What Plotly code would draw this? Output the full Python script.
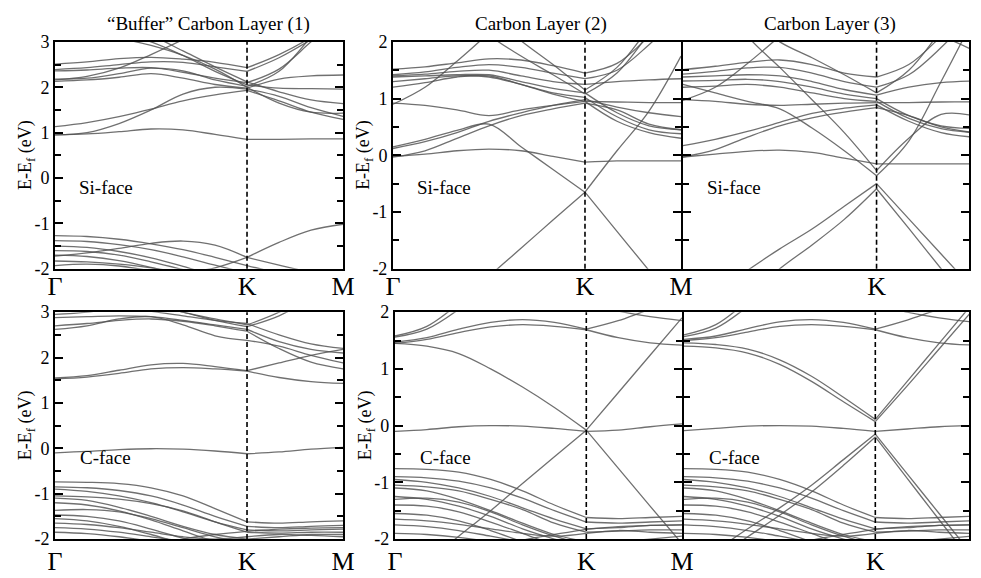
import plotly.graph_objects as go

# k-path positions (Gamma=0, K=6/9, M=1)
K_PATH = [0, 1/9, 2/9, 3/9, 4/9, 5/9, 6/9, 7/9, 8/9, 1]
K_IDX = 6

# ---------------- Panel 1: buffer layer, Si-face ----------------
p1_c1 = [0.95, 0.97, 1.02, 1.08, 1.06, 0.96, 0.85, 0.85, 0.86, 0.86]
p1_c2 = [0.95, 1.0, 1.2, 1.5, 1.85, 2.0, 1.96, 1.8, 1.55, 1.36]
p1_c3 = [1.13, 1.22, 1.35, 1.52, 1.7, 1.83, 1.93, 1.7, 1.45, 1.29]
p1_u1 = [2.51, 2.56, 2.63, 2.66, 2.62, 2.55, 2.43, 2.72, 3.1, 3.6]
p1_u2 = [2.39, 2.43, 2.5, 2.56, 2.55, 2.45, 2.35, 2.65, 3.05, 3.5]
p1_u3 = [2.36, 2.38, 2.42, 2.43, 2.33, 2.2, 2.1, 2.4, 3.0, 3.6]
p1_u4 = [2.18, 2.2, 2.3, 2.42, 2.36, 2.16, 2.02, 2.35, 3.1, 3.8]
p1_u5 = [2.13, 2.16, 2.22, 2.3, 2.2, 2.06, 1.98, 2.18, 2.25, 2.27]
p1_e1 = [2.16, 2.24, 2.42, 2.72, 3.05, 3.4, 3.7, 3.9, 4.0, 4.1]
p1_d1 = [3.6, 3.4, 3.2, 3.0, 2.7, 2.35, 2.05, 1.98, 1.97, 1.96]
p1_d2 = [3.9, 3.7, 3.45, 3.15, 2.8, 2.45, 2.12, 1.9, 1.72, 1.64]
p1_d3 = [3.3, 3.2, 3.08, 2.92, 2.7, 2.4, 2.0, 1.65, 1.45, 1.43]
p1_v1 = [-1.27, -1.29, -1.35, -1.45, -1.58, -1.75, -1.93, -2.1, -2.25, -2.35]
p1_v2 = [-1.72, -1.65, -1.55, -1.44, -1.39, -1.48, -1.75, -1.92, -2.08, -2.2]
p1_v3 = [-2.6, -2.5, -2.4, -2.25, -2.1, -1.98, -1.75, -1.42, -1.15, -1.02]
p1_v4 = [-1.38, -1.4, -1.47, -1.58, -1.74, -1.92, -2.1, -2.3, -2.4, -2.45]
p1_v5 = [-1.5, -1.53, -1.62, -1.76, -1.95, -2.15, -2.3, -2.4, -2.5, -2.5]
p1_v6 = [-1.6, -1.62, -1.7, -1.85, -2.02, -2.2, -2.35, -2.45, -2.5, -2.55]
p1_v7 = [-1.7, -1.73, -1.82, -1.97, -2.15, -2.3, -2.45, -2.5, -2.55, -2.6]
p1_v8 = [-1.83, -1.85, -1.9, -1.98, -2.1, -2.25, -2.4, -2.5, -2.55, -2.6]
p1_v9 = [-1.93, -1.9, -1.94, -2.05, -2.2, -2.35, -2.5, -2.55, -2.6, -2.65]

# ---------------- Panel 2: layer 2, Si-face ----------------
p2_f = [-0.02, 0.02, 0.08, 0.11, 0.08, -0.02, -0.12, -0.1, -0.1, -0.1]
p2_v = [0.15, 0.28, 0.44, 0.55, 0.15, -0.25, -0.65, 0.08, 0.78, 1.75]
p2_l = [-3.6, -3.1, -2.6, -2.13, -1.64, -1.14, -0.65, -1.34, -2.03, -2.7]
p2_a2 = [-0.03, 0.08, 0.3, 0.52, 0.7, 0.82, 0.92, 0.8, 0.55, 0.45]
p2_w1 = [0.9, 1.2, 1.66, 2.15, 2.6, 3.0, 3.3, 3.5, 3.6, 3.7]
p2_w2 = [0.92, 0.88, 0.8, 0.7, 0.8, 0.88, 0.95, 0.94, 0.93, 0.93]
p2_w3 = [0.12, 0.24, 0.4, 0.6, 0.75, 0.88, 0.98, 0.85, 0.75, 0.68]
p2_u1 = [1.52, 1.56, 1.63, 1.7, 1.68, 1.58, 1.45, 1.62, 2.1, 2.7]
p2_u2 = [1.42, 1.47, 1.55, 1.6, 1.55, 1.45, 1.35, 1.5, 1.95, 2.5]
p2_u3 = [1.4, 1.43, 1.48, 1.5, 1.4, 1.3, 1.25, 1.3, 1.33, 1.35]
p2_u4 = [1.38, 1.4, 1.42, 1.42, 1.3, 1.18, 1.1, 0.75, 0.52, 0.45]
p2_u5 = [1.3, 1.35, 1.4, 1.38, 1.25, 1.1, 1.02, 0.68, 0.45, 0.38]
p2_u6 = [1.2, 1.28, 1.38, 1.4, 1.25, 1.08, 0.95, 0.6, 0.4, 0.3]
p2_d1 = [3.5, 3.1, 2.65, 2.12, 1.75, 1.42, 1.08, 1.45, 2.15, 2.9]
p2_d2 = [3.8, 3.4, 2.95, 2.5, 2.02, 1.6, 1.15, 1.55, 2.25, 3.0]

# ---------------- Panel 3: layer 3, Si-face ----------------
p3_f = [-0.03, 0.02, 0.07, 0.09, 0.05, -0.05, -0.15, -0.15, -0.15, -0.15]
p3_a = [0.17, 0.28, 0.42, 0.58, 0.74, 0.83, 0.89, 0.6, 0.4, 0.32]
p3_a2 = [-0.03, 0.1, 0.32, 0.52, 0.66, 0.76, 0.84, 0.7, 0.5, 0.4]
p3_vin = [1.25, 1.1, 0.95, 0.82, 0.48, 0.08, -0.36, 0.25, 1.3, 2.4]
p3_vout = [3.4, 2.9, 2.1, 1.55, 0.98, 0.4, -0.27, 0.3, 0.72, 0.7]
p3_lin = [-2.9, -2.45, -2.03, -1.65, -1.3, -0.9, -0.5, -1.12, -1.74, -2.36]
p3_lout = [-3.5, -3.0, -2.5, -2.0, -1.58, -1.13, -0.59, -1.29, -2.0, -2.7]
p3_u1 = [1.51, 1.57, 1.64, 1.68, 1.6, 1.45, 1.38, 1.6, 2.1, 2.7]
p3_u2 = [1.43, 1.48, 1.54, 1.55, 1.45, 1.3, 1.2, 1.42, 1.9, 2.5]
p3_u3 = [1.38, 1.4, 1.42, 1.4, 1.3, 1.16, 1.06, 1.2, 1.28, 1.31]
p3_u4 = [1.31, 1.32, 1.34, 1.3, 1.2, 1.08, 1.0, 0.7, 0.52, 0.47]
p3_u5 = [1.2, 1.22, 1.25, 1.2, 1.1, 1.0, 0.95, 0.65, 0.47, 0.4]
p3_w2 = [0.98, 0.95, 0.9, 0.88, 0.9, 0.92, 0.93, 0.93, 0.94, 0.94]
p3_w1 = [0.97, 1.2, 1.62, 2.1, 2.6, 3.0, 3.4, 3.6, 3.7, 3.8]
p3_d1 = [3.3, 2.9, 2.45, 2.0, 1.72, 1.42, 1.1, 1.5, 2.2, 2.9]
p3_d2 = [4.0, 3.8, 3.5, 3.2, 2.9, 2.6, 2.4, 2.25, 2.1, 1.85]

# ---------------- Panel 4: buffer layer, C-face ----------------
p4_f = [-0.1, -0.07, -0.03, -0.01, -0.02, -0.06, -0.12, -0.08, -0.02, 0.02]
p4_b1 = [1.55, 1.6, 1.72, 1.84, 1.87, 1.8, 1.71, 1.88, 2.05, 2.18]
p4_b2 = [1.53, 1.57, 1.65, 1.75, 1.78, 1.75, 1.7, 1.56, 1.47, 1.43]
p4_t1 = [2.88, 2.9, 2.92, 2.9, 2.82, 2.72, 2.62, 2.35, 2.18, 2.1]
p4_t2 = [2.62, 2.7, 2.85, 2.9, 2.72, 2.48, 2.38, 2.25, 2.05, 1.88]
p4_t3 = [2.7, 2.75, 2.82, 2.85, 2.8, 2.7, 2.58, 2.2, 1.9, 1.75]
p4_t4 = [2.95, 3.0, 3.1, 3.15, 3.0, 2.82, 2.68, 2.92, 3.3, 3.7]
p4_t5 = [3.4, 3.3, 3.15, 3.02, 2.92, 2.82, 2.75, 2.5, 2.3, 2.2]
p4_p = [3.6, 3.5, 3.35, 3.2, 3.0, 2.85, 2.72, 3.0, 3.4, 3.8]
p4_v1 = [-0.74, -0.75, -0.78, -0.87, -1.05, -1.33, -1.62, -1.65, -1.62, -1.6]
p4_v2 = [-0.85, -0.87, -0.93, -1.05, -1.25, -1.5, -1.72, -1.75, -1.72, -1.7]
p4_v3 = [-0.9, -0.95, -1.05, -1.2, -1.4, -1.62, -1.8, -1.82, -1.8, -1.78]
p4_v4 = [-1.05, -1.07, -1.12, -1.22, -1.38, -1.62, -1.85, -1.87, -1.85, -1.85]
p4_v5 = [-1.1, -1.15, -1.3, -1.5, -1.72, -1.9, -2.0, -1.95, -1.9, -1.9]
p4_v6 = [-1.2, -1.25, -1.38, -1.58, -1.82, -2.05, -2.2, -2.2, -2.2, -2.2]
p4_v7 = [-1.37, -1.35, -1.4, -1.55, -1.75, -1.95, -2.1, -2.15, -2.2, -2.2]
p4_v8 = [-1.47, -1.5, -1.6, -1.78, -1.98, -2.15, -2.3, -2.3, -2.3, -2.3]
p4_v9 = [-1.55, -1.6, -1.72, -1.9, -2.1, -2.25, -2.4, -2.4, -2.4, -2.4]
p4_v10 = [-1.65, -1.68, -1.75, -1.85, -1.95, -2.0, -1.95, -1.9, -1.92, -1.95]
p4_v11 = [-1.75, -1.78, -1.85, -1.95, -2.05, -2.15, -2.25, -2.3, -2.3, -2.3]
p4_v12 = [-1.85, -1.88, -1.95, -2.05, -2.15, -2.25, -2.3, -2.35, -2.35, -2.35]
p4_v13 = [-2.5, -2.4, -2.3, -2.15, -2.0, -1.9, -1.83, -1.78, -1.76, -1.75]

# ---------------- Panel 5: layer 2, C-face ----------------
p5_f = [-0.1, -0.07, -0.02, 0.0, -0.01, -0.05, -0.1, -0.08, -0.02, 0.03]
p5_v = [1.45, 1.4, 1.27, 1.0, 0.68, 0.32, -0.08, 0.58, 1.24, 1.9]
p5_l = [-2.8, -2.4, -1.95, -1.5, -1.02, -0.55, -0.08, -0.75, -1.42, -2.08]
p5_b1 = [1.47, 1.55, 1.7, 1.82, 1.87, 1.82, 1.7, 1.85, 2.05, 2.2]
p5_b2 = [1.45, 1.52, 1.64, 1.74, 1.78, 1.75, 1.69, 1.55, 1.46, 1.42]
p5_p1 = [1.58, 1.75, 2.15, 2.6, 3.0, 3.3, 3.5, 3.6, 3.7, 3.8]
p5_p2 = [1.56, 1.7, 2.05, 2.5, 2.9, 3.2, 3.4, 3.5, 3.6, 3.7]
p5_t = [3.0, 2.95, 2.85, 2.7, 2.5, 2.3, 2.15, 2.02, 1.92, 1.85]

# ---------------- Panel 6: layer 3, C-face ----------------
p6_f = [-0.09, -0.05, -0.01, 0.0, -0.01, -0.05, -0.1, -0.06, -0.02, 0.0]
p6_vin = [1.4, 1.37, 1.28, 1.08, 0.78, 0.42, 0.07, 0.7, 1.35, 2.0]
p6_vout = [1.46, 1.43, 1.35, 1.16, 0.87, 0.5, 0.11, 0.78, 1.45, 2.12]
p6_lin = [-2.6, -2.2, -1.82, -1.45, -1.05, -0.6, -0.15, -0.85, -1.55, -2.25]
p6_lout = [-2.75, -2.35, -1.96, -1.58, -1.17, -0.7, -0.2, -0.93, -1.66, -2.38]
p6_b1 = [1.52, 1.58, 1.71, 1.83, 1.87, 1.82, 1.7, 1.86, 2.05, 2.2]
p6_b2 = [1.5, 1.55, 1.65, 1.75, 1.78, 1.75, 1.69, 1.55, 1.46, 1.42]
p6_p1 = [1.6, 1.78, 2.2, 2.65, 3.0, 3.3, 3.5, 3.6, 3.7, 3.8]
p6_p2 = [1.57, 1.72, 2.1, 2.55, 2.9, 3.2, 3.4, 3.5, 3.6, 3.7]
p6_t = [3.0, 2.95, 2.85, 2.7, 2.5, 2.3, 2.15, 2.0, 1.9, 1.83]

# shared C-face valence manifold (layers 2 and 3)
cv1 = [-0.76, -0.77, -0.82, -0.95, -1.15, -1.4, -1.62, -1.64, -1.62, -1.6]
cv2 = [-0.9, -0.92, -0.98, -1.1, -1.28, -1.5, -1.7, -1.72, -1.7, -1.68]
cv3 = [-0.95, -1.0, -1.1, -1.25, -1.45, -1.65, -1.82, -1.8, -1.76, -1.75]
cv4 = [-1.05, -1.08, -1.15, -1.3, -1.48, -1.72, -1.88, -1.86, -1.84, -1.84]
cv5 = [-1.1, -1.15, -1.3, -1.5, -1.72, -1.92, -2.05, -2.05, -2.0, -1.95]
cv6 = [-1.25, -1.3, -1.42, -1.6, -1.82, -2.0, -2.15, -2.2, -2.2, -2.2]
cv7 = [-1.3, -1.28, -1.35, -1.52, -1.75, -1.95, -2.1, -2.15, -2.2, -2.2]
cv8 = [-1.4, -1.42, -1.52, -1.7, -1.9, -2.1, -2.25, -2.3, -2.3, -2.3]
cv9 = [-1.55, -1.58, -1.68, -1.85, -2.05, -2.25, -2.4, -2.4, -2.4, -2.4]
cv10 = [-1.65, -1.68, -1.74, -1.82, -1.9, -1.95, -1.9, -1.85, -1.88, -1.9]
cv11 = [-1.75, -1.78, -1.85, -1.95, -2.05, -2.15, -2.25, -2.3, -2.3, -2.3]
cv12 = [-1.9, -1.92, -1.97, -2.05, -2.15, -2.25, -2.3, -2.35, -2.35, -2.35]
cv13 = [-2.5, -2.4, -2.3, -2.15, -2.02, -1.92, -1.83, -1.78, -1.76, -1.75]
C_VALENCE = [cv1, cv2, cv3, cv4, cv5, cv6, cv7, cv8, cv9, cv10, cv11, cv12, cv13]

PANEL_BANDS = [
    [p1_c1, p1_c2, p1_c3, p1_u1, p1_u2, p1_u3, p1_u4, p1_u5, p1_e1, p1_d1, p1_d2, p1_d3,
     p1_v1, p1_v2, p1_v3, p1_v4, p1_v5, p1_v6, p1_v7, p1_v8, p1_v9],
    [p2_f, p2_v, p2_l, p2_a2, p2_w1, p2_w2, p2_w3, p2_u1, p2_u2, p2_u3, p2_u4, p2_u5, p2_u6,
     p2_d1, p2_d2],
    [p3_f, p3_a, p3_a2, p3_vin, p3_vout, p3_lin, p3_lout, p3_u1, p3_u2, p3_u3, p3_u4, p3_u5,
     p3_w2, p3_w1, p3_d1, p3_d2],
    [p4_f, p4_b1, p4_b2, p4_t1, p4_t2, p4_t3, p4_t4, p4_t5, p4_p, p4_v1, p4_v2, p4_v3, p4_v4, p4_v5,
     p4_v6, p4_v7, p4_v8, p4_v9, p4_v10, p4_v11, p4_v12, p4_v13],
    [p5_f, p5_v, p5_l, p5_b1, p5_b2, p5_p1, p5_p2, p5_t] + C_VALENCE,
    [p6_f, p6_vin, p6_vout, p6_lin, p6_lout, p6_b1, p6_b2, p6_p1, p6_p2, p6_t] + C_VALENCE,
]

Y_RANGES = [[-2, 3], [-2, 2], [-2, 2], [-2, 3], [-2, 2], [-2, 2]]
X_RANGES = [[0, 1], [0, 1], [0, 0.985], [0, 1], [0, 1], [0, 0.993]]
W, H = 981, 578
PANEL_PX = [  # left, right, top, bottom in pixels
    (48, 342, 33, 268), (393, 687, 33, 268), (689, 981, 33, 268),
    (48, 342, 313, 548), (395, 688, 313, 548), (690, 981, 313, 548),
]
X_TICKS = [([0, 6/9, 1], ["Γ", "K", "M"]), ([0, 6/9, 1], ["Γ", "K", "M"]), ([6/9], ["K"]),
           ([0, 6/9, 1], ["Γ", "K", "M"]), ([0, 6/9, 1], ["Γ", "K", "M"]), ([6/9], ["K"])]
X_STANDOFF = [-7, -7, -7, -2, -2, -2]
SHOW_YLABELS = [True, True, False, True, True, False]
FACE_LABELS = ["Si-face", "Si-face", "Si-face", "C-face", "C-face", "C-face"]
TITLES = ["“Buffer” Carbon Layer (1)", "Carbon Layer (2)", "Carbon Layer (3)"]

FONT = "Times New Roman, Liberation Serif, DejaVu Serif, serif"
BAND_COLOR = "rgba(80,80,80,0.82)"

fig = go.Figure()
layout = dict(width=W, height=H, margin=dict(l=0, r=0, t=0, b=0),
              paper_bgcolor="white", plot_bgcolor="white", showlegend=False,
              font=dict(family=FONT, color="black"))
shapes, annotations = [], []

for i, bands in enumerate(PANEL_BANDS):
    n = i + 1
    sfx = "" if n == 1 else str(n)
    xs, ys = [], []
    for b in bands:
        xs += K_PATH[:K_IDX + 1] + [None]
        ys += b[:K_IDX + 1] + [None]
        xs += K_PATH[K_IDX:] + [None]
        ys += b[K_IDX:] + [None]
    fig.add_trace(go.Scatter(x=xs, y=ys, mode="lines", xaxis="x" + sfx, yaxis="y" + sfx,
                             line=dict(color=BAND_COLOR, width=1.3, shape="spline", smoothing=1.0),
                             hoverinfo="skip"))
    l, r, t, b_ = PANEL_PX[i]
    ylo, yhi = Y_RANGES[i]
    majors = list(range(ylo, yhi + 1))
    minors = [v + 0.5 for v in range(ylo, yhi)]
    tv, tt = X_TICKS[i]
    layout["xaxis" + sfx] = dict(
        domain=[l / W, r / W], range=X_RANGES[i], anchor="y" + sfx,
        showline=True, linewidth=2, linecolor="black", mirror=True,
        showgrid=False, zeroline=False, ticks="",
        tickmode="array", tickvals=tv, ticktext=tt, ticklabelstandoff=X_STANDOFF[i],
        tickfont=dict(family=FONT, size=26, color="black"))
    layout["yaxis" + sfx] = dict(
        domain=[1 - b_ / H, 1 - t / H], range=[ylo, yhi], anchor="x" + sfx,
        showline=True, linewidth=2, linecolor="black", mirror="ticks",
        showgrid=False, zeroline=False, ticks="inside", ticklen=8, tickwidth=1.5,
        tickcolor="black", tickmode="array", tickvals=majors,
        ticktext=[str(v) for v in majors],
        showticklabels=SHOW_YLABELS[i],
        tickfont=dict(family=FONT, size=18, color="black"),
        minor=dict(tickvals=minors, ticks="inside", ticklen=6, tickwidth=1.5, tickcolor="black"))
    shapes.append(dict(type="line", xref="x" + sfx, yref="y" + sfx + " domain",
                       x0=K_PATH[K_IDX], x1=K_PATH[K_IDX], y0=0, y1=1,
                       line=dict(color="black", width=1.6, dash="5px,3px")))
    annotations.append(dict(text=FACE_LABELS[i], xref="paper", yref="paper",
                            x=(l + 52) / W, y=1 - (t + 151) / H, showarrow=False,
                            xanchor="center", yanchor="middle",
                            font=dict(family=FONT, size=19, color="black")))
    if SHOW_YLABELS[i]:
        annotations.append(dict(text="E-E<sub>f</sub> (eV)", xref="paper", yref="paper",
                                x=(l - 29) / W, y=1 - ((t + b_) / 2) / H, textangle=-90,
                                showarrow=False, xanchor="center", yanchor="middle",
                                font=dict(family=FONT, size=18, color="black")))

for j, title in enumerate(TITLES):
    cx = [205, 544, 839][j]
    annotations.append(dict(text=title, xref="paper", yref="paper", x=cx / W, y=1 - 14 / H,
                            showarrow=False, xanchor="center", yanchor="middle",
                            font=dict(family=FONT, size=19, color="black")))

layout["shapes"] = shapes
layout["annotations"] = annotations
fig.update_layout(**layout)
fig.write_html("out.html")
